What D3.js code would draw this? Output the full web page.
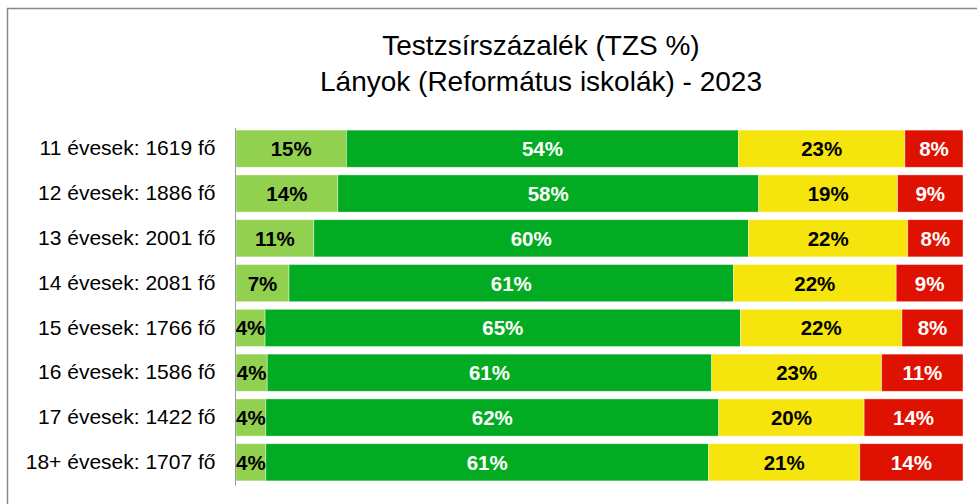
<!DOCTYPE html>
<html>
<head>
<meta charset="utf-8">
<script src="https://cdn.jsdelivr.net/npm/d3@7"></script>
<style>
  body { margin: 0; background: #fff; }
  svg { font-family: "Liberation Sans", Arial, sans-serif; }
</style>
</head>
<body>
<svg></svg>
<script>
// row labels
var categories = ["11 évesek: 1619 fő", "12 évesek: 1886 fő", "13 évesek: 2001 fő", "14 évesek: 2081 fő",
    "15 évesek: 1766 fő", "16 évesek: 1586 fő", "17 évesek: 1422 fő", "18+ évesek: 1707 fő"]

// shares per band (percent)
var band1 = [15.2, 14.0, 10.7, 7.3, 4.0, 4.3, 4.1, 4.1]
var band2 = [54.0, 57.9, 59.8, 61.2, 65.4, 61.2, 62.3, 60.9]
var band3 = [22.9, 19.1, 21.9, 22.4, 22.2, 23.4, 20.0, 20.8]
var band4 = [8.0, 9.0, 7.6, 9.2, 8.4, 11.2, 13.6, 14.2]

var colors = ["#92d050", "#03ab22", "#f5e50c", "#df1100"],
    textColors = ["#000", "#fff", "#000", "#fff"]

var width = 977, height = 504,
    margin = { top: 128, right: 14, bottom: 22, left: 236 },
    step = 44.8

var svg = d3.select("svg")
    .attr("width", width)
    .attr("height", height)

// chart frame
svg.append("rect")
    .attr("x", 7.5).attr("y", 8.5)
    .attr("width", width).attr("height", height)
    .style("fill", "none").style("stroke", "#888").style("stroke-width", "1.5px")

svg.append("text")
    .attr("x", 541).attr("y", 55)
    .attr("text-anchor", "middle")
    .style("font-size", "28px")
    .text("Testzsírszázalék (TZS %)")
svg.append("text")
    .attr("x", 541).attr("y", 91)
    .attr("text-anchor", "middle")
    .style("font-size", "28px")
    .text("Lányok (Református iskolák) - 2023")

var rows = categories.map((c, i) => {
    let vals = [band1[i], band2[i], band3[i], band4[i]],
        total = d3.sum(vals), acc = 0
    return {
        name: c,
        segs: vals.map((v, k) => {
            let s = { k: k, v: v, x0: acc / total * 100, x1: (acc + v) / total * 100 }
            acc += v
            return s
        })
    }
})

var x = d3.scaleLinear().domain([0, 100]).range([margin.left, 963])
var y = d3.scaleBand().domain(categories)
    .range([126.3, 126.3 + step * categories.length])
    .paddingInner(0.17).paddingOuter(0.085)

var row = svg.selectAll("g.row")
    .data(rows)
    .enter().append("g")
    .attr("class", "row")
    .attr("transform", d => "translate(0," + y(d.name) + ")")

row.selectAll("rect")
    .data(d => d.segs)
    .enter().append("rect")
    .attr("x", d => x(d.x0))
    .attr("width", d => x(d.x1) - x(d.x0))
    .attr("height", y.bandwidth())
    .style("fill", d => colors[d.k])
    .style("stroke", "rgba(255,255,255,0.5)")
    .style("stroke-width", "0.8px")

row.selectAll("text")
    .data(d => d.segs)
    .enter().append("text")
    .attr("x", d => (x(d.x0) + x(d.x1)) / 2)
    .attr("y", y.bandwidth() / 2 + 7.5)
    .attr("text-anchor", "middle")
    .style("font-size", "20.5px")
    .style("font-weight", "bold")
    .style("fill", d => textColors[d.k])
    .text(d => Math.round(d.v) + "%")

// category axis
var yAxis = svg.append("g")
    .attr("transform", "translate(" + (margin.left - 0.5) + ",0)")
    .call(d3.axisLeft(y).tickSize(0).tickPadding(20))
yAxis.select(".domain")
    .attr("d", "M0," + margin.top + "V" + (126.3 + step * categories.length + 1))
    .style("stroke", "#999")
yAxis.selectAll("text")
    .style("font-size", "21px")
    .style("font-family", "Liberation Sans, Arial, sans-serif")
    .style("fill", "#000")
</script>
</body>
</html>
